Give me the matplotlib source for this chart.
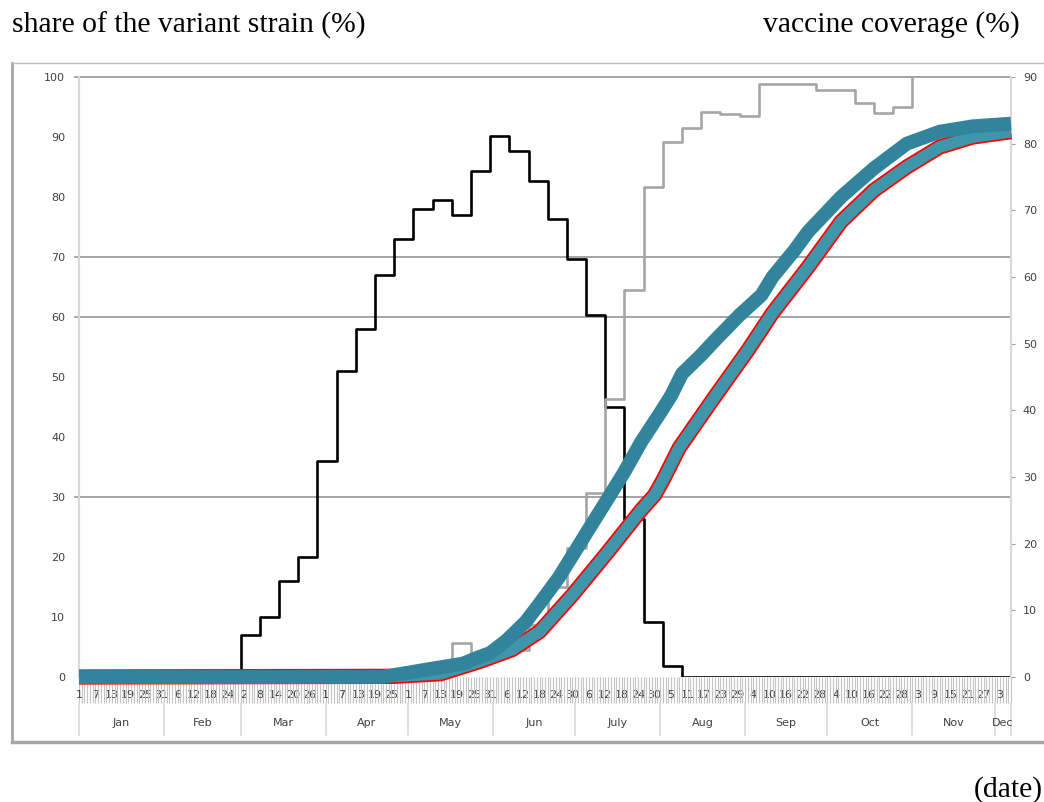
import numpy as np
import pandas as pd
import matplotlib
matplotlib.use("Agg")
import matplotlib.pyplot as plt
from matplotlib.lines import Line2D
import matplotlib.transforms as mtransforms

# eixo x: dias desde 1 Jan 2021
dias = pd.date_range("2021-01-01", "2021-12-07")
n_dias = len(dias)

# inicio de cada semana (a partir de 1 Mar = dia 59)
semana_ini = [59 + 7 * k for k in range(41)]

# participação da variante (%) - eixo esquerdo, semanal
variante = [7, 10, 16, 20, 36, 51, 58, 67, 73, 78, 79.5, 77, 84.3, 90.2, 87.7,
            82.6, 76.4, 69.7, 60.3, 45, 26.3, 9.2, 1.8] + [0] * 18

# série cinza - eixo direito, semanal
cinza = [0] * 11 + [5.1, 2, 4.5, 4, 7.8, 13.5, 19.4, 27.6, 41.7, 58.1, 73.5, 80.3,
                    82.4, 84.8, 84.4, 84.2, 89.0, 88.9, 88.9, 88.0, 88.0, 86.1,
                    84.6, 85.5] + [100] * 6

# cobertura vacinal (%) - eixo direito, leituras
cob1_dia = [0, 110, 115, 128, 140, 146, 150, 156, 163, 168, 175, 180, 186, 193,
            199, 205, 212, 216, 220, 227, 232, 241, 249, 253, 261, 266, 278, 290,
            302, 314, 326, 340]
cob1_val = [0, 0, 0.3, 1.2, 2.0, 3.0, 3.6, 5.5, 8.3, 11.0, 14.9, 18.2, 22.2, 26.8,
            30.8, 35.2, 39.6, 42.2, 45.5, 48.3, 50.5, 54.3, 57.3, 60.0, 64.0, 66.8,
            72.0, 76.3, 80.0, 81.8, 82.6, 83.0]

cob2_dia = [0, 115, 132, 146, 158, 168, 180, 193, 205, 210, 213, 219, 231, 244,
            253, 266, 278, 290, 302, 314, 326, 340]
cob2_val = [0, 0.1, 0.5, 2.3, 4.1, 6.8, 12.3, 18.8, 25.0, 27.3, 29.5, 34.4, 41.5,
            49.0, 54.6, 61.5, 68.3, 73.0, 76.5, 79.5, 81.0, 81.8]

meses = ["Jan", "Feb", "Mar", "Apr", "May", "Jun", "July", "Aug", "Sep", "Oct", "Nov", "Dec"]

W, H = 1044, 802
fig = plt.figure(figsize=(W / 100, H / 100), dpi=100)
ax = fig.add_axes([79 / W, (H - 677) / H, 932 / W, 600 / H])
ax2 = ax.twinx()

x_fim = n_dias - 1
ax.set_xlim(0, x_fim)
ax.set_ylim(0, 100)
ax2.set_ylim(0, 90)

# linhas de grade (só algumas, como no original)
for g in [30, 60, 70, 100]:
    ax.axhline(g, xmin=-0.004, xmax=1, color="#8c8c8c", lw=1.1, clip_on=False, zorder=1)

# variante - degraus
xs = [0] + semana_ini + [x_fim]
ys = [0] + variante + [variante[-1]]
ax.step(xs, ys, where="post", color="black", lw=1.9, zorder=3)

# cinza - degraus
ys2 = [0] + cinza + [cinza[-1]]
ax2.step(xs, ys2, where="post", color="#a6a6a6", lw=1.9, zorder=2)

# curvas de cobertura
ax2.plot(cob2_dia, cob2_val, color="red", lw=11, solid_capstyle="butt", zorder=3, clip_on=False)
ax2.plot(cob2_dia, cob2_val, color="#3f95aa", lw=8.5, solid_capstyle="butt", zorder=4, clip_on=False)
ax2.plot(cob1_dia, cob1_val, color="#31849b", lw=10, solid_capstyle="butt", zorder=5, clip_on=False)

# eixo y esquerdo
ax.set_yticks(range(0, 101, 10))
ax.tick_params(axis="y", length=0, pad=10, labelsize=8, labelcolor="#404040")
# eixo y direito
ax2.set_yticks(range(0, 91, 10))
ax2.tick_params(axis="y", length=3, width=0.8, color="#a0a0a0", pad=5.5, labelsize=8, labelcolor="#404040")

for a in (ax, ax2):
    a.spines["left"].set_color("#d9d9d9")
    a.spines["right"].set_color("#d9d9d9")
    a.spines["top"].set_visible(False)
    a.spines["bottom"].set_visible(False)
    a.spines["left"].set_linewidth(1.5)
    a.spines["right"].set_linewidth(1.5)

# eixo x: marcas diárias e rótulos a cada 6 dias
maiores = list(range(0, n_dias, 6))
ax.set_xticks(maiores)
ax.set_xticklabels([str(dias[d].day) for d in maiores])
ax.set_xticks(range(n_dias), minor=True)
ax.tick_params(axis="x", which="both", length=18.5, width=0.8, color="#c4c4c4")
ax.tick_params(axis="x", which="major", pad=-9.5, labelsize=8, labelcolor="#404040")

trans = mtransforms.blended_transform_factory(ax.transData, ax.transAxes)
ini_mes = [i for i in range(n_dias) if dias[i].day == 1] + [x_fim]
for i, m in enumerate(meses):
    a0, a1 = ini_mes[i], ini_mes[i + 1]
    ax.text((a0 + a1) / 2, -0.077, m, transform=trans, ha="center", va="center",
            fontsize=8, color="#404040", clip_on=False)
for d in ini_mes:
    ax.plot([d, d], [-0.043, -0.097], transform=trans, color="#d9d9d9", lw=1.2, clip_on=False)

# moldura externa
fig.add_artist(Line2D([12 / W, 12 / W], [1 - 63 / H, 1 - 742 / H], color="#a6a6a6", lw=2))
fig.add_artist(Line2D([12 / W, 1], [1 - 742 / H, 1 - 742 / H], color="#a6a6a6", lw=2.5))
fig.add_artist(Line2D([12 / W, 1], [1 - 63 / H, 1 - 63 / H], color="#bfbfbf", lw=1))

serif = "Liberation Serif"
fig.text(12 / W, 1 - 25 / H, "share of the variant strain (%)", fontsize=21.3,
         family=serif, ha="left", va="center")
fig.text(1020 / W, 1 - 25 / H, "vaccine coverage (%)", fontsize=21.3,
         family=serif, ha="right", va="center")
fig.text(1043 / W, 1 - 790 / H, "(date)", fontsize=21.3, family=serif,
         ha="right", va="center")

fig.savefig("out.png", dpi=100)
